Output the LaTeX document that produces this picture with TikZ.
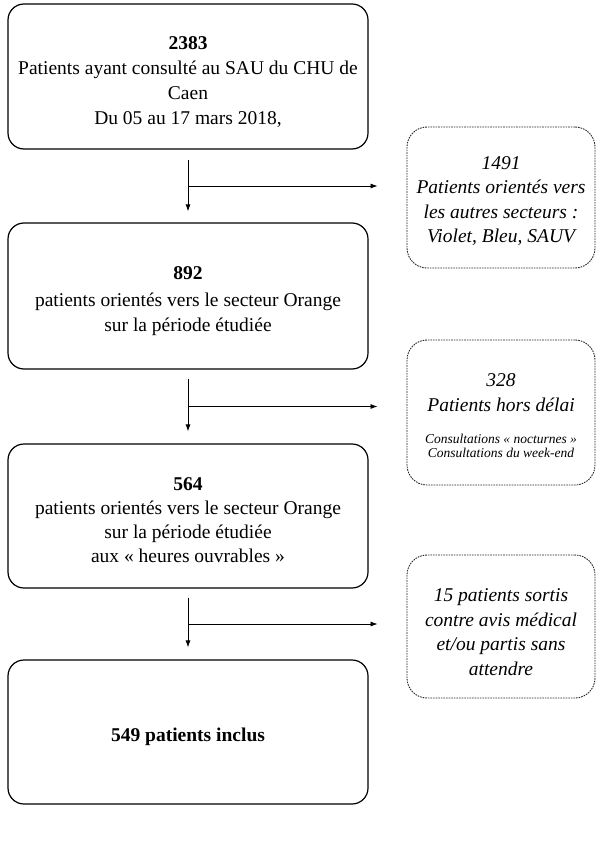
\documentclass[tikz,border=0pt]{standalone}
\usepackage{fontspec}
\setmainfont{Liberation Serif}
\usetikzlibrary{calc,arrows.meta}
\newcommand{\cale}[1]{\rule{0pt}{#1}} % descend le texte dans la boite

\begin{document}
\begin{tikzpicture}[x=1pt,y=-1pt,font=\fontsize{19.5}{25}\selectfont,
    boite/.style={draw,line width=1.2pt,rounded corners=16pt,minimum width=360pt,
      align=center,inner sep=0pt},
    exclu/.style={draw=black!85,line width=0.9pt,dash pattern=on 1.6pt off 1pt,
      rounded corners=20pt,minimum width=188pt,align=center,inner sep=0pt,
      font=\fontsize{19.5}{24.5}\selectfont\itshape},
    fleche/.style={-{Latex[length=7pt,width=5pt]},line width=0.8pt}]
    \useasboundingbox (0,0) rectangle (611,842);
    % colonne principale
    \node[boite,minimum height=145pt] (total) at (188,76.5)
      {\cale{23.5pt}\textbf{2383}\\Patients ayant consulté au SAU du CHU de\\Caen\\Du 05 au 17 mars 2018,};
    \node[boite,minimum height=146pt] (orange) at (188,296)
      {\cale{23.5pt}\textbf{892}\\[2pt]patients orientés vers le secteur Orange\\sur la période étudiée};
    \node[boite,minimum height=144pt] (ouvrable) at (188,516)
      {\cale{21.5pt}\textbf{564}\\[-1pt]patients orientés vers le secteur Orange\\[-1pt]sur la période étudiée\\[-1pt]aux « heures ouvrables »};
    \node[boite,minimum height=144pt] (inclus) at (188,732) {\cale{23.5pt}\textbf{549 patients inclus}};
    % patients exclus
    \node[exclu,minimum height=141pt] (autres) at (501,197.5)
      {\cale{19.5pt}1491\\Patients orientés vers\\les autres secteurs :\\Violet, Bleu, SAUV};
    \node[exclu,minimum height=145pt] (delai) at (501,412.5)
      {\cale{19.5pt}328\\[1pt]Patients hors délai\\[7pt]\fontsize{13.5}{15.5}\selectfont Consultations « nocturnes »\\[-10pt]
       \fontsize{13.5}{15.5}\selectfont Consultations du week-end};
    \node[exclu,minimum height=143pt] (sortis) at (501,626.5)
      {\cale{24.5pt}15 patients sortis\\contre avis médical\\et/ou partis sans\\attendre};
    % fleches
    \coordinate (b1) at ($(total.south)!0.5!(orange.north)$);
    \coordinate (b2) at ($(orange.south)!0.5!(ouvrable.north)$);
    \coordinate (b3) at ($(ouvrable.south)!0.5!(inclus.north)$);
    \draw[fleche] ([yshift=-10pt]total.south) -- ([yshift=11pt]orange.north);
    \draw[fleche] ([yshift=-9pt]orange.south) -- ([yshift=12pt]ouvrable.north);
    \draw[fleche] ([yshift=-9pt]ouvrable.south) -- ([yshift=12pt]inclus.north);
    \draw[fleche] (b1) -- ([xshift=-29pt]b1 -| autres.west);
    \draw[fleche] (b2) -- ([xshift=-29pt]b2 -| delai.west);
    \draw[fleche] (b3) -- ([xshift=-29pt]b3 -| sortis.west);
\end{tikzpicture}
\end{document}
